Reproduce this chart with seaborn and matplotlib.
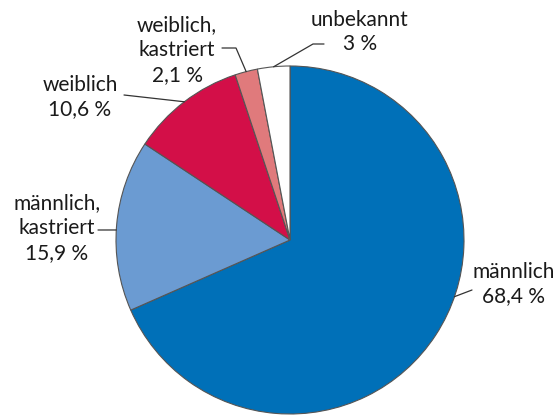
import numpy as np
import matplotlib.pyplot as plt
import seaborn as sns

# data
categories = ["männlich", "männlich,\nkastriert", "weiblich", "weiblich,\nkastriert", "unbekannt"]
shares = [68.4, 15.9, 10.6, 2.1, 3.0]
share_labels = ["68,4 %", "15,9 %", "10,6 %", "2,1 %", "3 %"]
colors = ["#0070b8", "#6b9bd2", "#d30f48", "#e07a7c", "#ffffff"]

W, H = 558, 415
CX, CY, R = 290, 240, 174


def px(x, y):
    # pixel position in the reference -> data coordinates (pie radius = 1)
    return (x - CX) / R, (CY - y) / R


sns.set_theme(style="white")
plt.rcParams["font.family"] = ["Lato", "DejaVu Sans"]

fig = plt.figure(figsize=(W / 100, H / 100), dpi=100)
ax = fig.add_axes([0, 0, 1, 1])
ax.pie(shares, colors=colors, startangle=90, counterclock=False, radius=1,
       wedgeprops=dict(edgecolor="#555555", linewidth=0.8))
ax.set_xlim(-CX / R, (W - CX) / R)
ax.set_ylim(-(H - CY) / R, CY / R)
ax.set_aspect("equal")
ax.axis("off")

# label layout: text centre, leader anchor angle on the rim, leader path
text_pos = [(514, 284), (57, 228), (80, 97), (177, 50), (360, 32)]
anchor_deg = [-19, 176.7, 127.4, 104.6, 95.4]
leader_pts = [[(472, 290)],
              [(98, 230)],
              [(124, 95)],
              [(236, 48), (222, 48)],
              [(313, 44), (324, 44)]]

for cat, lab, tp, ang, pts in zip(categories, share_labels, text_pos, anchor_deg, leader_pts):
    a = np.deg2rad(ang)
    xs = [np.cos(a)] + [px(*p)[0] for p in pts]
    ys = [np.sin(a)] + [px(*p)[1] for p in pts]
    ax.plot(xs, ys, color="#333333", lw=0.9)
    tx, ty = px(*tp)
    ax.text(tx, ty, f"{cat}\n{lab}", ha="center", va="center", fontsize=15,
            linespacing=1.3, color="#1a1a1a")

fig.savefig("out.png", dpi=100)
